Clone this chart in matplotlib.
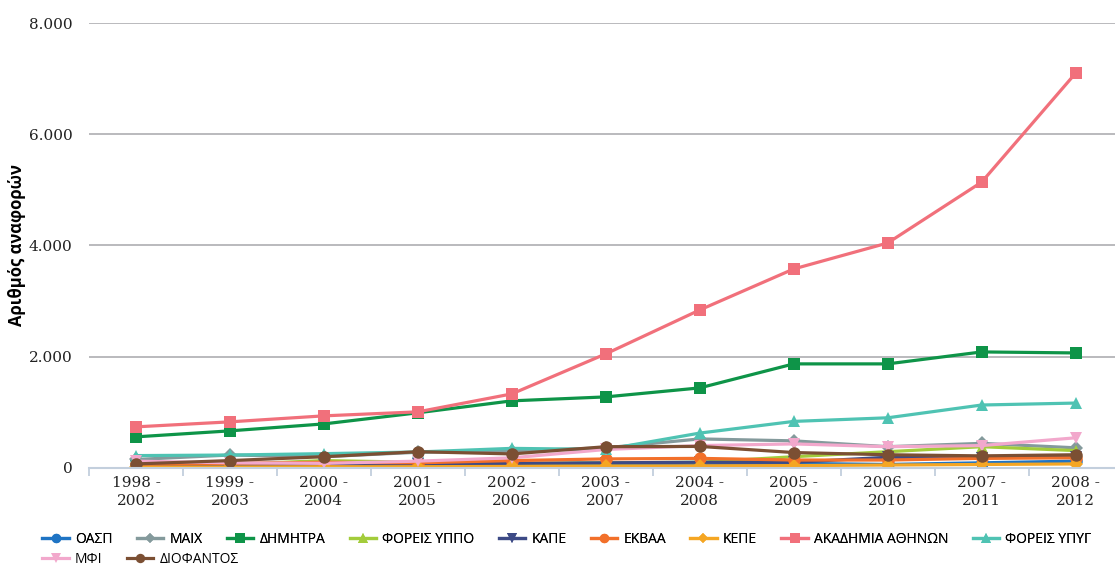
#!/usr/bin/env python3
import matplotlib
matplotlib.use('Agg')
import matplotlib.pyplot as plt
from matplotlib.ticker import FuncFormatter, FixedLocator

periods = ['1998 -\n2002', '1999 -\n2003', '2000 -\n2004', '2001 -\n2005',
           '2002 -\n2006', '2003 -\n2007', '2004 -\n2008', '2005 -\n2009',
           '2006 -\n2010', '2007 -\n2011', '2008 -\n2012']

oasp = [20, 30, 40, 50, 60, 70, 80, 80, 60, 90, 120]
maix = [150, 230, 200, 280, 300, 360, 520, 485, 380, 440, 360]
dimitra = [557, 665, 790, 990, 1205, 1276, 1438, 1870, 1870, 2085, 2067]
foreis_yppo = [50, 60, 130, 100, 80, 90, 100, 200, 290, 380, 310]
kape = [30, 40, 50, 70, 80, 90, 100, 100, 190, 180, 200]
ekvaa = [60, 80, 100, 90, 130, 160, 170, 140, 140, 170, 180]
kepe = [10, 15, 20, 20, 25, 30, 35, 40, 50, 60, 70]
akadimia = [737, 827, 935, 1007, 1330, 2050, 2840, 3578, 4045, 5140, 7100]
foreis_ypyg = [220, 230, 255, 285, 350, 330, 625, 835, 900, 1130, 1165]
mfi = [120, 90, 80, 120, 180, 330, 400, 430, 380, 400, 540]
diofantos = [70, 130, 200, 290, 250, 380, 385, 275, 235, 215, 235]

# name, values, colour, marker
series = [
    ('ΟΑΣΠ', oasp, '#1f74c4', 'o'),
    ('ΜΑΙΧ', maix, '#849a9c', 'D'),
    ('ΔΗΜΗΤΡΑ', dimitra, '#0e9448', 's'),
    ('ΦΟΡΕΙΣ ΥΠΠΟ', foreis_yppo, '#a3cc3b', '^'),
    ('ΚΑΠΕ', kape, '#3d4a86', 'v'),
    ('ΕΚΒΑΑ', ekvaa, '#f2702a', 'o'),
    ('ΚΕΠΕ', kepe, '#f5a623', 'D'),
    ('ΑΚΑΔΗΜΙΑ ΑΘΗΝΩΝ', akadimia, '#f1707b', 's'),
    ('ΦΟΡΕΙΣ ΥΠΥΓ', foreis_ypyg, '#4fc3b3', '^'),
    ('ΜΦΙ', mfi, '#f2a8cc', 'v'),
    ('ΔΙΟΦΑΝΤΟΣ', diofantos, '#7b4f33', 'o'),
]

fig = plt.figure(figsize=(11.15, 5.65), dpi=100)
ax = fig.add_axes([0.0798, 0.172, 0.927, 0.787])

x = list(range(len(periods)))
handles = []
for name, vals, col, mk in series:
    ms = 7 if mk == 'D' else 9
    h, = ax.plot(x, vals, color=col, lw=2.3, marker=mk, markersize=ms,
                 markeredgewidth=0, label=name)
    handles.append(h)

ax.set_xlim(-0.5, 10.5)
ax.set_ylim(0, 8000)
ax.set_yticks([0, 2000, 4000, 6000, 8000])
ax.yaxis.set_major_formatter(FuncFormatter(lambda v, p: '{:,.0f}'.format(v).replace(',', '.')))
ax.set_xticks(x)
ax.set_xticklabels(periods)
ax.xaxis.set_minor_locator(FixedLocator([i - 0.5 for i in range(len(periods) + 1)]))
ax.tick_params(axis='x', which='major', length=0, pad=6)
ax.tick_params(axis='x', which='minor', length=6, width=1.3, color='#c3cfdd')
ax.tick_params(axis='y', length=0, pad=12)
for lab in ax.get_xticklabels() + ax.get_yticklabels():
    lab.set_family('DejaVu Serif')
    lab.set_fontsize(11)
    lab.set_color('#222222')
for lab in ax.get_xticklabels():
    lab.set_linespacing(1.35)

ax.grid(axis='y', color='#b4b4b8', lw=1.3)
ax.set_axisbelow(True)
for s in ['top', 'right', 'left']:
    ax.spines[s].set_visible(False)
ax.spines['bottom'].set_color('#c3cfdd')
ax.spines['bottom'].set_linewidth(1.5)

ax.set_ylabel('Αριθμός αναφορών', fontsize=12, fontweight='bold', family='Open Sans')
ax.yaxis.set_label_coords(-0.061, 0.5)

leg_font = {'family': 'Open Sans', 'size': 10}
leg_kw = dict(frameon=False, prop=leg_font, handlelength=1.9, markerscale=0.75,
              columnspacing=1.75, handletextpad=0.45, borderaxespad=0)
leg1 = fig.legend(handles=handles[:9], loc='lower left', bbox_to_anchor=(0.033, 0.022),
                  ncol=9, **leg_kw)
fig.add_artist(leg1)
fig.legend(handles=handles[9:], loc='lower left', bbox_to_anchor=(0.033, -0.014),
           ncol=2, **leg_kw)

fig.savefig('out.png', dpi=100)
